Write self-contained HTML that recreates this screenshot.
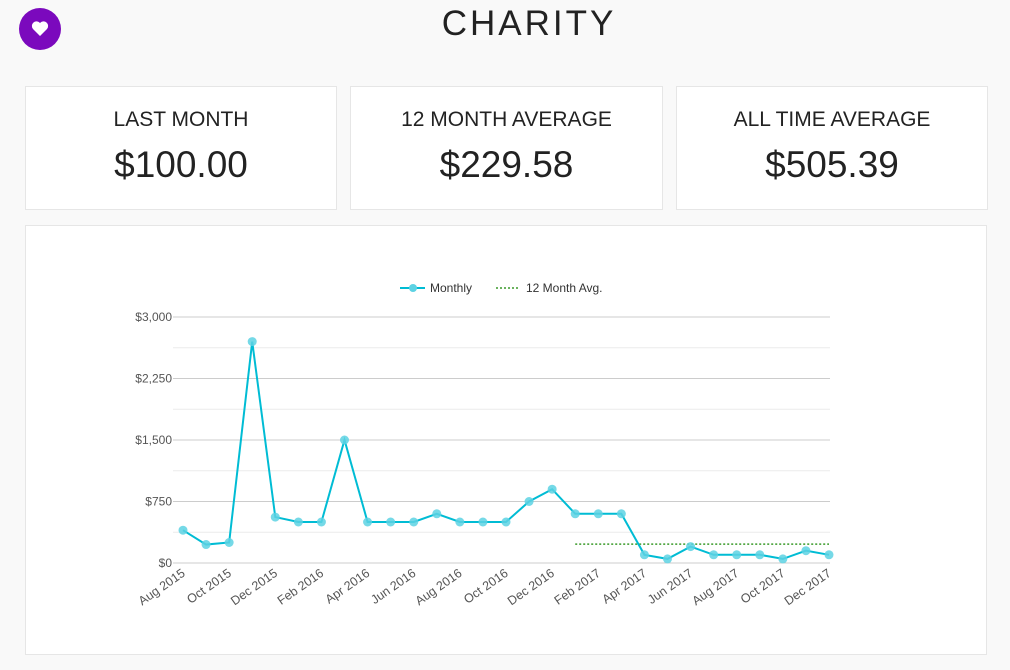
<!DOCTYPE html>
<html><head><meta charset="utf-8"><style>
body{margin:0;width:1010px;height:670px;background:#f9f9f9;font-family:"Liberation Sans",sans-serif;overflow:hidden;position:relative}
.icon{position:absolute;left:19px;top:8px;width:42px;height:42px;border-radius:50%;background:#7b09bd}
.title{position:absolute;left:0;width:1058px;top:4px;text-align:center;font-size:35px;letter-spacing:3px;color:#222;font-weight:300}
.card{position:absolute;top:86px;height:124px;background:#fff;border:1px solid #e6e6e6;box-sizing:border-box;text-align:center;color:#222}
.card .l{margin-top:21px;font-size:21px}
.card .v{margin-top:12px;font-size:37px}
.chart{position:absolute;left:25px;top:225px;width:962px;height:430px;background:#fff;border:1px solid #e6e6e6;box-sizing:border-box}
</style></head><body>
<div class="icon"><svg width="42" height="42"><path d="M21 28 L14 21 A4 4 0 0 1 21 15 A4 4 0 0 1 28 21 Z" fill="#fff"/></svg></div>
<div class="title">CHARITY</div>
<div class="card" style="left:25px;width:312px"><div class="l">LAST MONTH</div><div class="v">$100.00</div></div>
<div class="card" style="left:350px;width:313px"><div class="l">12 MONTH AVERAGE</div><div class="v">$229.58</div></div>
<div class="card" style="left:676px;width:312px"><div class="l">ALL TIME AVERAGE</div><div class="v">$505.39</div></div>
<div class="chart"></div>
<svg id="svg" width="1010" height="670" style="position:absolute;left:0;top:0"></svg>
<script>
const months=["Aug 2015","Sep 2015","Oct 2015","Nov 2015","Dec 2015","Jan 2016","Feb 2016","Mar 2016","Apr 2016","May 2016","Jun 2016","Jul 2016","Aug 2016","Sep 2016","Oct 2016","Nov 2016","Dec 2016","Jan 2017","Feb 2017","Mar 2017","Apr 2017","May 2017","Jun 2017","Jul 2017","Aug 2017","Sep 2017","Oct 2017","Nov 2017","Dec 2017"];
const monthly=[400,225,250,2700,560,500,500,1500,500,500,500,600,500,500,500,750,900,600,600,600,100,50,200,100,100,100,50,150,100];
const avg12=229.58;
const avgStartIndex=17;
const yTicks=[0,750,1500,2250,3000];
const yTickLabels=["$0","$750","$1,500","$2,250","$3,000"];
const NS="http://www.w3.org/2000/svg";
const svg=document.getElementById('svg');
const x0=183,x1=829,y0=563,y1=317;
const X=i=>x0+(x1-x0)*i/(months.length-1);
const Y=v=>y0-(y0-y1)*v/3000;
function mk(t,a,p){const e=document.createElementNS(NS,t);for(const k in a)e.setAttribute(k,a[k]);(p||svg).appendChild(e);return e;}
yTicks.forEach((v,i)=>{
 const g=mk('line',{x1:173,x2:830,y1:Y(v),y2:Y(v),stroke:'#ccc','stroke-width':1});
 
 
 if(i<yTicks.length-1){const m=mk('line',{x1:173,x2:830,y1:Y(v+375),y2:Y(v+375),stroke:'#ececec','stroke-width':1});
 
 }
 const t=mk('text',{x:172,y:Y(v)+4,'text-anchor':'end','font-size':12,fill:'#555'});t.textContent=yTickLabels[i];
 
 
});
months.forEach((m,i)=>{if(i%2)return;
 const t=mk('text',{x:X(i)+3,y:575,'text-anchor':'end','font-size':12.5,fill:'#555',transform:`rotate(-35 ${X(i)+3} 575)`});t.textContent=m;
 
 
});
const al=mk('line',{x1:X(avgStartIndex),x2:X(months.length-1),y1:Y(avg12),y2:Y(avg12),stroke:'#3a9a2a','stroke-width':1.5,'stroke-dasharray':'2,2'});


const pl=mk('polyline',{points:monthly.map((v,i)=>X(i)+','+Y(v)).join(' '),fill:'none',stroke:'#00bcd4','stroke-width':2});


monthly.forEach((v,i)=>{const c=mk('circle',{cx:X(i),cy:Y(v),r:4.5,fill:'#5dd2e3','fill-opacity':0.85});
 
 });
const lg=mk('g',{});


mk('line',{x1:400,x2:425,y1:288,y2:288,stroke:'#00bcd4','stroke-width':2},lg);
mk('circle',{cx:413,cy:288,r:4,fill:'#5dd2e3'},lg);
const t1=mk('text',{x:430,y:292,'font-size':12,fill:'#333'},lg);t1.textContent='Monthly';
mk('line',{x1:496,x2:519,y1:288,y2:288,stroke:'#3a9a2a','stroke-width':1.5,'stroke-dasharray':'2,2'},lg);
const t2=mk('text',{x:526,y:292,'font-size':12,fill:'#333'},lg);t2.textContent='12 Month Avg.';
</script>
</body></html>
